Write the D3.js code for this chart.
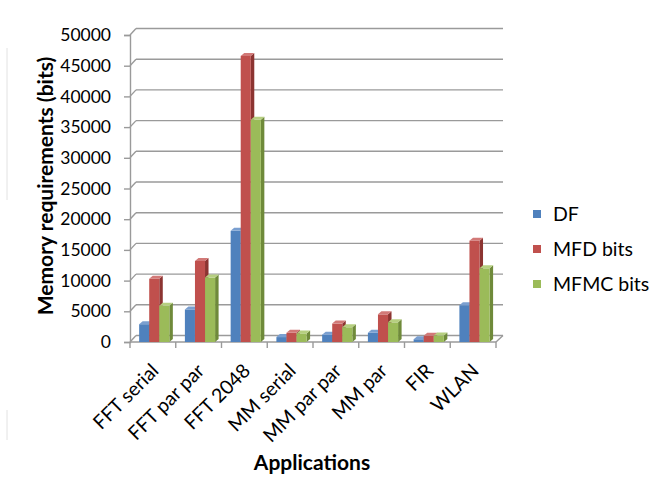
<!DOCTYPE html>
<html>
<head>
<meta charset="utf-8">
<script src="https://cdn.jsdelivr.net/npm/d3@7"></script>
<style>
  html, body { margin: 0; padding: 0; background: #fff; }
  svg { display: block; font-family: Lato, "Open Sans", "Liberation Sans", sans-serif; }
</style>
</head>
<body>
<svg id="chart" width="660" height="495"></svg>
<script>
// Memory requirements per application, three storage schemes
const categories = ["FFT serial", "FFT par par", "FFT 2048", "MM serial", "MM par par", "MM par", "FIR", "WLAN"];
const seriesNames = ["DF", "MFD bits", "MFMC bits"];
const dfBits   = [2900, 5300, 18100, 800, 1200, 1500, 450, 6000];
const mfdBits  = [10300, 13200, 46600, 1500, 3000, 4500, 1000, 16500];
const mfmcBits = [5900, 10500, 36200, 1400, 2400, 3200, 1050, 12000];
const yTicks = [0, 5000, 10000, 15000, 20000, 25000, 30000, 35000, 40000, 45000, 50000];

const seriesValues = [dfBits, mfdBits, mfmcBits];
const faceColors = [
  { front: "#4F81BD", side: "#385D8A", top: "#7A9FD0" },
  { front: "#C0504D", side: "#8C3431", top: "#D27977" },
  { front: "#9BBB59", side: "#6F8A3A", top: "#B6CF80" }
];

const svg = d3.select("#chart");

// plot frame: front plane plus an oblique back wall
const x0 = 130, x1 = 496, yTop = 35, yBase = 342;
const wallDx = 6, wallDy = -6.5;
const barDx = 3.5, barDy = -3;

const y = d3.scaleLinear().domain([0, 50000]).range([yBase, yTop]);
const x = d3.scaleBand().domain(categories).range([x0, x1]).paddingInner(0).paddingOuter(0);
const barW = x.bandwidth() * 0.22;
const clusterOffset = x.bandwidth() * 0.2;

const grid = svg.append("g").attr("stroke", "#9a9a9a").attr("stroke-width", 1.4).attr("fill", "none");

// back wall gridlines and diagonal connectors to the front axis
yTicks.forEach(t => {
  const yy = y(t);
  grid.append("line").attr("x1", x0 + wallDx).attr("x2", x1 + wallDx + 1)
    .attr("y1", yy + wallDy).attr("y2", yy + wallDy);
  grid.append("line").attr("x1", x0).attr("y1", yy)
    .attr("x2", x0 + wallDx).attr("y2", yy + wallDy);
});
// floor front edge and right edge
grid.append("line").attr("x1", x0).attr("x2", x1).attr("y1", yBase).attr("y2", yBase);
grid.append("line").attr("x1", x1).attr("y1", yBase).attr("x2", x1 + wallDx + 1).attr("y2", yBase + wallDy);

// front value axis
const yAxisG = svg.append("g").attr("transform", `translate(${x0},0)`)
  .call(d3.axisLeft(y).tickValues(yTicks).tickFormat(d3.format("d")).tickSize(6).tickPadding(13));
yAxisG.select(".domain").attr("stroke", "#9a9a9a").attr("stroke-width", 1.4);
yAxisG.selectAll(".tick line").attr("stroke", "#9a9a9a").attr("stroke-width", 1.4);
yAxisG.selectAll(".tick text").attr("font-size", 17.5).attr("fill", "#000")
  .attr("font-family", "Lato, 'Open Sans', sans-serif");

// category tick marks under the floor edge
const catEdges = categories.map(c => x(c)).concat([x1]);
svg.append("g").selectAll("line").data(catEdges).join("line")
  .attr("x1", d => d).attr("x2", d => d)
  .attr("y1", yBase).attr("y2", yBase + 6)
  .attr("stroke", "#9a9a9a").attr("stroke-width", 1.4);

// 3D bars: front, side and top faces
const bars = svg.append("g");
categories.forEach((c, ci) => {
  seriesValues.forEach((vals, si) => {
    const v = vals[ci];
    const bx = x(c) + clusterOffset + si * barW;
    const yv = y(v), y0 = y(0);
    const col = faceColors[si];
    const g = bars.append("g");
    g.append("polygon")
      .attr("points", [[bx + barW, yv], [bx + barW + barDx, yv + barDy], [bx + barW + barDx, y0 + barDy], [bx + barW, y0]].join(" "))
      .attr("fill", col.side);
    g.append("rect").attr("x", bx).attr("y", yv).attr("width", barW).attr("height", y0 - yv)
      .attr("fill", col.front);
    g.append("polygon")
      .attr("points", [[bx, yv], [bx + barDx, yv + barDy], [bx + barW + barDx, yv + barDy], [bx + barW, yv]].join(" "))
      .attr("fill", col.top);
  });
});

// rotated category labels
svg.append("g").selectAll("text").data(categories).join("text")
  .attr("transform", d => `translate(${x(d) + x.bandwidth() / 2 + 7},${yBase + 30}) rotate(-45)`)
  .attr("text-anchor", "end")
  .attr("font-size", 19.5)
  .text(d => d);

// axis titles
svg.append("text")
  .attr("transform", `translate(53,186) rotate(-90)`)
  .attr("text-anchor", "middle").attr("font-size", 21).attr("font-weight", "bold")
  .text("Memory requirements (bits)");
svg.append("text")
  .attr("x", 312).attr("y", 470)
  .attr("text-anchor", "middle").attr("font-size", 21).attr("font-weight", "bold")
  .text("Applications");

// legend
const legend = svg.append("g").attr("transform", "translate(533,210)");
seriesNames.forEach((name, i) => {
  const row = legend.append("g").attr("transform", `translate(0,${i * 35})`);
  row.append("rect").attr("width", 8).attr("height", 8).attr("fill", faceColors[i].front);
  row.append("text").attr("x", 20).attr("y", 10.5).attr("font-size", 19.5).text(name);
});

// faint marks along the left edge of the sheet
svg.append("g").attr("stroke", "#e2e2e2").attr("stroke-width", 1)
  .selectAll("line").data([[48, 200], [410, 440]]).join("line")
  .attr("x1", 7).attr("x2", 7).attr("y1", d => d[0]).attr("y2", d => d[1]);
</script>
</body>
</html>
